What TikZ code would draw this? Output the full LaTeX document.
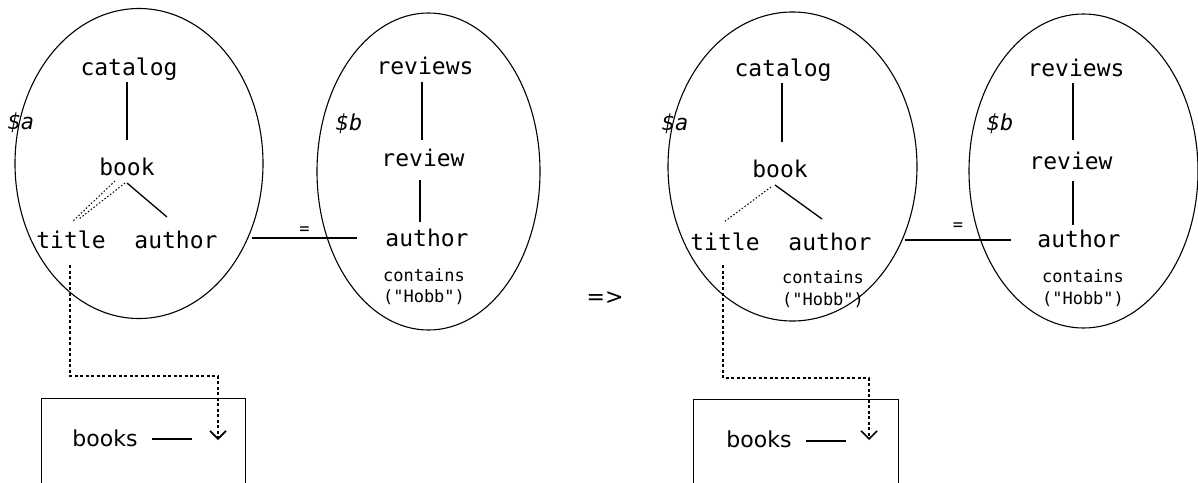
\documentclass[tikz,border=0pt]{standalone}
\usepackage{fontspec}
\setmainfont{DejaVu Sans}
\setsansfont{DejaVu Sans}
\setmonofont{DejaVu Sans Mono}
\usetikzlibrary{shapes.geometric,arrows.meta,calc}
\tikzset{
  lbl/.style={font=\ttfamily\fontsize{23}{23}\selectfont, inner sep=0pt, anchor=base},
  small/.style={font=\ttfamily\fontsize{17}{17}\selectfont, inner sep=0pt, anchor=base},
  var/.style={font=\ttfamily\itshape\fontsize{22}{22}\selectfont, inner sep=0pt, anchor=base},
  sanslbl/.style={font=\sffamily\fontsize{22}{22}\selectfont, inner sep=0pt, anchor=base},
  oval/.style={ellipse, draw, line width=1.1pt, inner sep=0pt},
  edge/.style={line width=1.3pt},
  dots/.style={line width=1.3pt, dash pattern=on 3pt off 2.5pt},
  fine/.style={line width=1pt, dash pattern=on 1.5pt off 2pt},
  boxnode/.style={draw, line width=1.3pt, rectangle, inner sep=0pt, anchor=north west},
  tip/.style={-{Straight Barb[length=8pt,width=16pt,line width=1.6pt]}},
}
\begin{document}
\begin{tikzpicture}[x=1pt,y=-1pt]
\useasboundingbox (0,0) rectangle (1198,482);
\clip (0,0) rectangle (1198,482);
\fill[white] (0,0) rectangle (1198,482);

% ---------- left panel ----------
\node[oval, minimum width=248pt, minimum height=310pt] (eA) at (139,163.5) {};
\node[oval, minimum width=223pt, minimum height=317pt] (eB) at (428.5,171.5) {};

\node[lbl] (catA) at (129,75) {catalog};
\node[lbl] (bookA) at (127,175) {book};
\node[lbl] (titleA) at (71,248) {title};
\node[lbl] (authA) at (176,248) {author};
\node[var] (varA) at (21,129) {\$a};

\node[lbl] (revsA) at (425,74) {reviews};
\node[lbl] (revA) at (423,166) {review};
\node[lbl] (authB) at (427,246) {author};
\node[small] (contA) at (424,281) {contains};
\node[small] (hobbA) at (424,302) {("Hobb")};
\node[var] (varB) at (349,130) {\$b};

\node[boxnode, minimum width=204pt, minimum height=100pt] (boxA) at (41,398) {};
\node[sanslbl] (booksA) at (105,446) {books};

\draw[edge] ($(catA.base)+(-2,7)$) -- ($(bookA.base)+(0,-35)$);
\draw[edge] ($(bookA.base)+(0,8)$) -- ($(authA.base)+(-9,-31)$);
\draw[fine] ($(bookA.base)+(-12,6)$) -- ($(titleA.base)+(1,-26)$);
\draw[fine] ($(bookA.base)+(-2,8)$) -- ($(titleA.base)+(8,-29)$);
\draw[edge] ($(revsA.base)+(-3,8)$) -- ($(revA.base)+(-1,-26)$);
\draw[edge] ($(revA.base)+(-3,14)$) -- ($(authB.base)+(-7,-24)$);
\draw[edge] ($(eA.center)+(113,74.5)$) -- node[small, anchor=south, above=3pt] (eqA) {=} ($(authB.base)+(-70,-8)$);
\draw[dots, tip] ($(titleA.base)+(-1,17)$) |- ($(booksA.base)+(113,-70)$) -- ($(booksA.base)+(113,-6)$);
\draw[edge] ($(booksA.base)+(47,-7)$) -- ($(booksA.base)+(87,-7)$);

% ---------- arrow between panels ----------
\node[font=\sffamily\fontsize{22}{22}\selectfont, inner sep=0pt] (impl) at (605,298) {=>};

% ---------- right panel ----------
\node[oval, minimum width=249pt, minimum height=309pt] (eC) at (792.5,166.5) {};
\node[oval, minimum width=229pt, minimum height=314pt] (eD) at (1083.5,171) {};

\node[lbl] (catB) at (783,76) {catalog};
\node[lbl] (bookB) at (780,177) {book};
\node[lbl] (titleB) at (725,250) {title};
\node[lbl] (authC) at (830,250) {author};
\node[small] (contC) at (823,283) {contains};
\node[small] (hobbC) at (823,305) {("Hobb")};
\node[var] (varC) at (675,130) {\$a};

\node[lbl] (revsB) at (1076,76) {reviews};
\node[lbl] (revB) at (1071,169) {review};
\node[lbl] (authD) at (1079,247) {author};
\node[small] (contD) at (1083,282) {contains};
\node[small] (hobbD) at (1083,304) {("Hobb")};
\node[var] (varD) at (1000,130) {\$b};

\node[boxnode, minimum width=205pt, minimum height=100pt] (boxB) at (693,399) {};
\node[sanslbl] (booksB) at (759,447) {books};

\draw[edge] ($(catB.base)+(-1,7)$) -- ($(bookB.base)+(2,-35)$);
\draw[edge] ($(bookB.base)+(-5,8)$) -- ($(authC.base)+(-8,-31)$);
\draw[fine] ($(bookB.base)+(-9,10)$) -- ($(titleB.base)+(-1,-28)$);
\draw[edge] ($(revsB.base)+(-3,7)$) -- ($(revB.base)+(2,-29)$);
\draw[edge] ($(revB.base)+(2,12)$) -- ($(authD.base)+(-6,-22)$);
\draw[edge] ($(eC.center)+(112.5,73.5)$) -- node[small, anchor=south, above=9pt] (eqB) {=} ($(authD.base)+(-68,-7)$);
\draw[dots, tip] ($(titleB.base)+(-2,15)$) |- ($(booksB.base)+(110,-69)$) -- ($(booksB.base)+(110,-7)$);
\draw[edge] ($(booksB.base)+(47,-6)$) -- ($(booksB.base)+(87,-6)$);
\end{tikzpicture}
\end{document}
